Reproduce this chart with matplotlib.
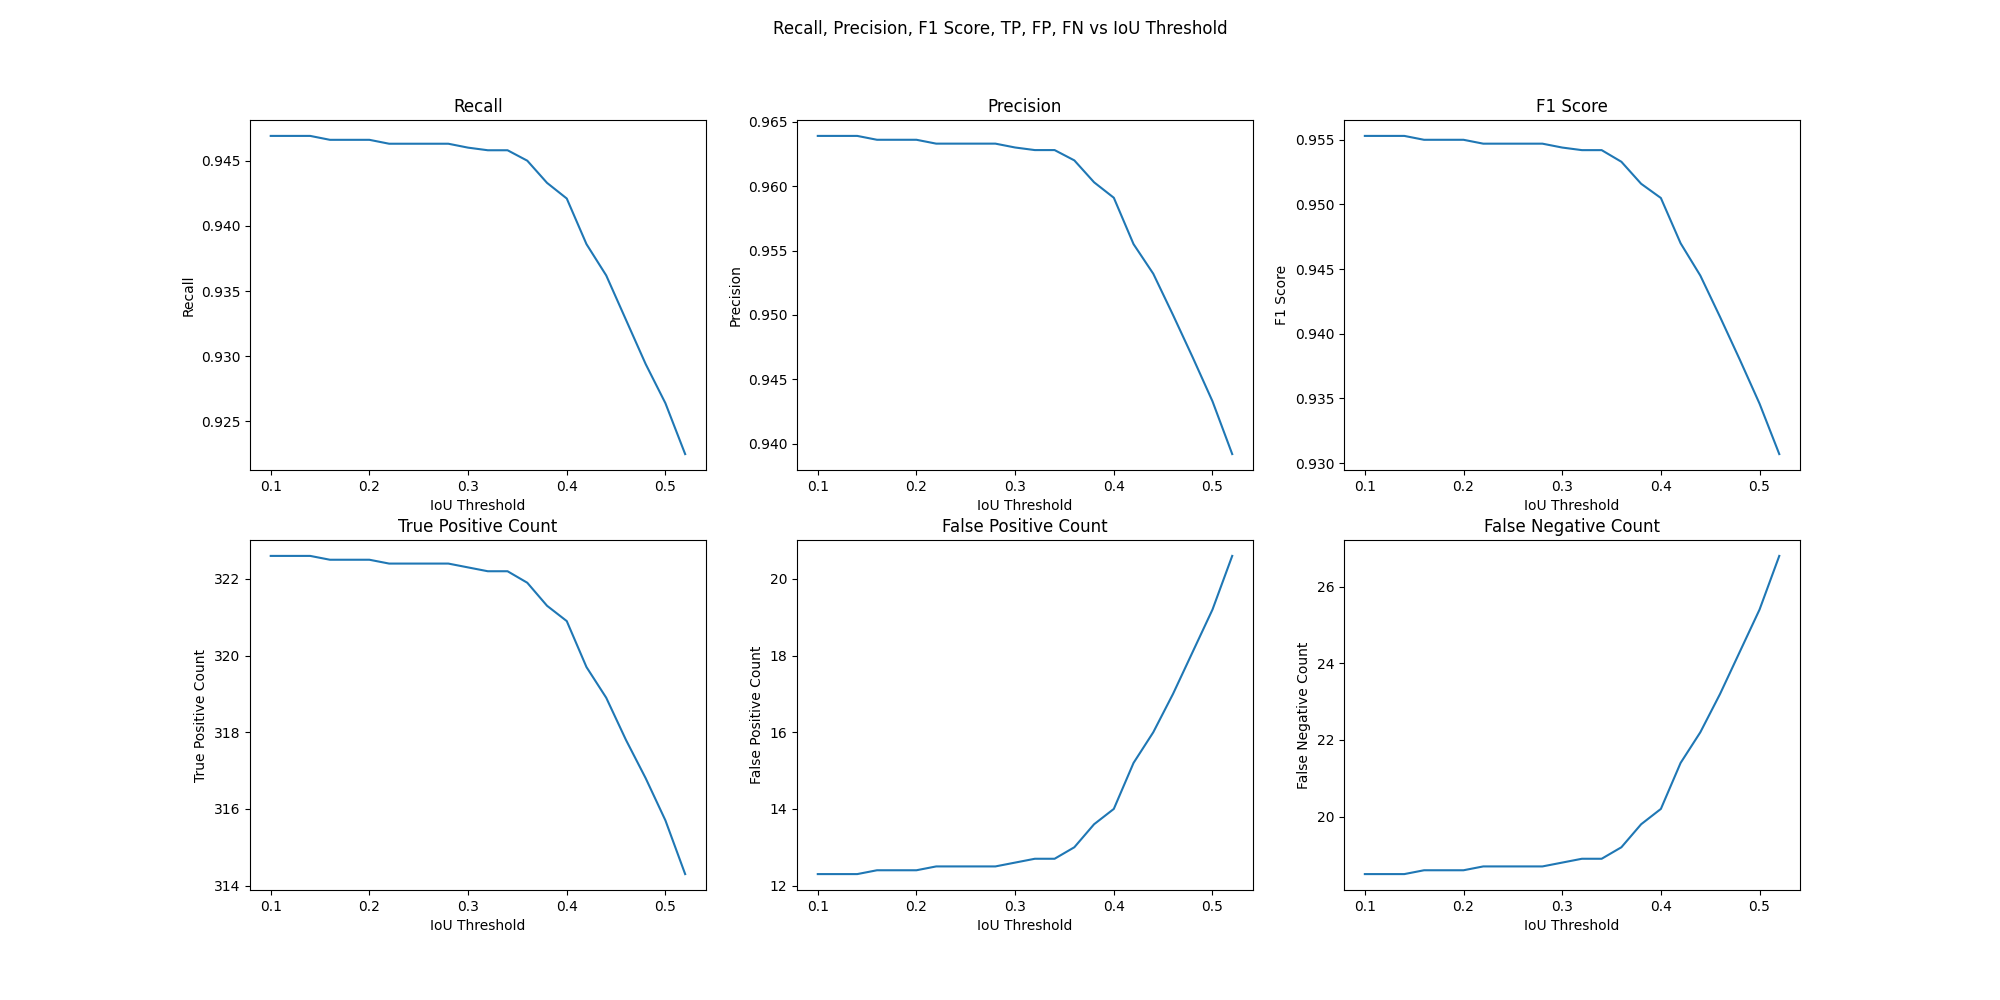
import matplotlib
matplotlib.use("Agg")
import matplotlib.pyplot as plt
import numpy as np

thresholds = [0.10, 0.12, 0.14, 0.16, 0.18, 0.20, 0.22, 0.24, 0.26, 0.28, 0.30,
              0.32, 0.34, 0.36, 0.38, 0.40, 0.42, 0.44, 0.46, 0.48, 0.50, 0.52]

recall = [0.9469, 0.9469, 0.9469, 0.9466, 0.9466, 0.9466, 0.9463, 0.9463, 0.9463, 0.9463, 0.9460,
          0.9458, 0.9458, 0.9450, 0.9433, 0.9421, 0.9386, 0.9362, 0.9328, 0.9294, 0.9264, 0.9225]
precision = [0.9639, 0.9639, 0.9639, 0.9636, 0.9636, 0.9636, 0.9633, 0.9633, 0.9633, 0.9633, 0.9630,
             0.9628, 0.9628, 0.9620, 0.9603, 0.9591, 0.9555, 0.9532, 0.9500, 0.9467, 0.9433, 0.9392]
f1 = [0.9553, 0.9553, 0.9553, 0.9550, 0.9550, 0.9550, 0.9547, 0.9547, 0.9547, 0.9547, 0.9544,
      0.9542, 0.9542, 0.9533, 0.9516, 0.9505, 0.9470, 0.9445, 0.9413, 0.9380, 0.9346, 0.9307]
tp = [322.6, 322.6, 322.6, 322.5, 322.5, 322.5, 322.4, 322.4, 322.4, 322.4, 322.3,
      322.2, 322.2, 321.9, 321.3, 320.9, 319.7, 318.9, 317.8, 316.8, 315.7, 314.3]
fp = [12.3, 12.3, 12.3, 12.4, 12.4, 12.4, 12.5, 12.5, 12.5, 12.5, 12.6,
      12.7, 12.7, 13.0, 13.6, 14.0, 15.2, 16.0, 17.0, 18.1, 19.2, 20.6]
fn = [18.5, 18.5, 18.5, 18.6, 18.6, 18.6, 18.7, 18.7, 18.7, 18.7, 18.8,
      18.9, 18.9, 19.2, 19.8, 20.2, 21.4, 22.2, 23.2, 24.3, 25.4, 26.8]

panels = [
    ("Recall", "Recall", recall),
    ("Precision", "Precision", precision),
    ("F1 Score", "F1 Score", f1),
    ("True Positive Count", "True Positive Count", tp),
    ("False Positive Count", "False Positive Count", fp),
    ("False Negative Count", "False Negative Count", fn),
]

fig, axes = plt.subplots(2, 3, figsize=(20, 10))
fig.suptitle("Recall, Precision, F1 Score, TP, FP, FN vs IoU Threshold")

for ax, (title, ylabel, values) in zip(axes.flat, panels):
    ax.plot(thresholds, values)
    ax.set_title(title)
    ax.set_xlabel("IoU Threshold")
    ax.set_ylabel(ylabel)

fig.savefig("out.png", dpi=100)
